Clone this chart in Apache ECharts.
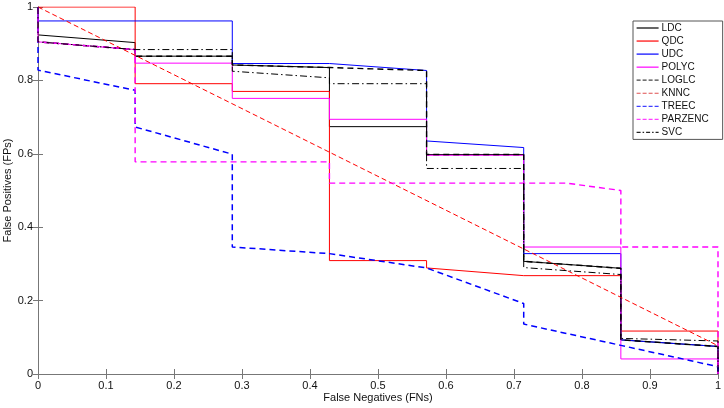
<!DOCTYPE html>
<html>
<head>
<meta charset="utf-8">
<script src="https://cdn.jsdelivr.net/npm/echarts@6/dist/echarts.min.js"></script>
<style>html,body{margin:0;padding:0;background:#fff;}#c{width:724px;height:408px;}</style>
</head>
<body>
<div id="c"></div>
<script>
// Points are [step k (x = k/7), value]
const STEPS = 7;
const LDC    = [[0,1],[0,0.924],[1,0.903],[1,0.866],[2,0.866],[2,0.842],[3,0.835],[3,0.674],[4,0.674],[4,0.598],[5,0.598],[5,0.307],[6,0.288],[6,0.093],[7,0.075],[7,0]];
const QDC    = [[0,1],[1,1],[1,0.791],[2,0.791],[2,0.770],[3,0.770],[3,0.309],[4,0.309],[4,0.289],[5,0.268],[6,0.268],[6,0.117],[7,0.117],[7,0]];
const UDC    = [[0,1],[0,0.962],[2,0.962],[2,0.846],[3,0.846],[4,0.827],[4,0.635],[5,0.617],[5,0.328],[6,0.328],[6,0.093],[7,0.075],[7,0]];
const POLYC  = [[0,1],[0,0.905],[1,0.884],[1,0.847],[2,0.847],[2,0.751],[3,0.751],[3,0.694],[4,0.694],[4,0.596],[5,0.596],[5,0.346],[6,0.346],[6,0.041],[7,0.041],[7,0]];
const LOGLC  = [[0,1],[0,0.905],[1,0.884],[1,0.866],[2,0.866],[2,0.842],[3,0.835],[4,0.827],[4,0.598],[5,0.598],[5,0.307],[6,0.288],[6,0.093],[7,0.075],[7,0]];
const KNNC   = [[0,1],[7,0.077]];
const TREEC  = [[0,1],[0,0.828],[1,0.773],[1,0.673],[2,0.599],[2,0.346],[3,0.328],[4,0.289],[5,0.192],[5,0.136],[6,0.078],[7,0.020],[7,0]];
const PARZENC= [[0,1],[0,0.905],[1,0.884],[1,0.578],[3,0.578],[3,0.520],[5.443,0.520],[6,0.500],[6,0.346],[7,0.346],[7,0]];
const SVC    = [[0,1],[0,0.905],[1,0.884],[2,0.884],[2,0.825],[3,0.807],[3,0.791],[4,0.791],[4,0.560],[5,0.560],[5,0.290],[6,0.271],[6,0.097],[7,0.090],[7,0]];

const names = ['LDC','QDC','UDC','POLYC','LOGLC','KNNC','TREEC','PARZENC','SVC'];
const dataSets = [LDC,QDC,UDC,POLYC,LOGLC,KNNC,TREEC,PARZENC,SVC];
const colors = ['#000000','#ff0000','#0000ff','#ff00ff','#000000','#ff0000','#0000ff','#ff00ff','#000000'];
const dash = [6,4];
const dashDot = [7,3,1.5,3];
const types = ['solid','solid','solid','solid',dash,[5,3],dash,dash,dashDot];
const widths = [1,1,1,1,1.4,1,1.5,1.4,1];
const legendTypes = ['solid','solid','solid','solid',[4,2],[4,2],[4,2],[4,2],[4,2,1.5,2]];
const legendColors = ['#000000','#ff0000','#0000ff','#ff00ff','#444444','#e05050','#4040ff','#ff40ff','#222222'];

const FONT = 'Liberation Sans, Arial, sans-serif';
const axisCommon = {
  type:'value', min:0, max:1,
  axisLine:{show:true, lineStyle:{color:'#777', width:1}},
  axisTick:{show:true, inside:true, length:5, lineStyle:{color:'#777'}},
  splitLine:{show:false}
};

const chart = echarts.init(document.getElementById('c'), null, {renderer:'canvas'});
chart.setOption({
  backgroundColor:'#fff',
  animation:false,
  grid:{left:38, right:6, top:7, bottom:34, containLabel:false, outerBoundsMode:'none'},
  xAxis:[
    Object.assign({}, axisCommon, {position:'bottom', interval:0.1,
      name:'False Negatives (FNs)', nameLocation:'middle', nameGap:18, nameMoveOverlap:false,
      nameTextStyle:{fontFamily:FONT, fontSize:11, color:'#111'},
      axisLabel:{fontFamily:FONT, fontSize:11, color:'#111', margin:6}}),
    Object.assign({}, axisCommon, {position:'top', interval:0.1, axisLabel:{show:false}})
  ],
  yAxis:[
    Object.assign({}, axisCommon, {position:'left', interval:0.2,
      name:'False Positives (FPs)', nameLocation:'middle', nameGap:25, nameMoveOverlap:false,
      nameTextStyle:{fontFamily:FONT, fontSize:11, color:'#111'},
      axisLabel:{fontFamily:FONT, fontSize:11, color:'#111', margin:5}}),
    Object.assign({}, axisCommon, {position:'right', interval:0.2, axisLabel:{show:false}})
  ],
  legend:{
    orient:'vertical', left:633, top:21,
    data:names.map((n,i)=>({
      name:n,
      itemStyle:{opacity:0},
      lineStyle:{color:legendColors[i], width:1.2, type:legendTypes[i]}
    })),
    itemWidth:22, itemHeight:8, itemGap:3.05,
    padding:[2,14,2,3],
    borderColor:'#555', borderWidth:1, backgroundColor:'#fff',
    textStyle:{fontFamily:FONT, fontSize:10, lineHeight:10, color:'#111', padding:[0,0,0,-2]}
  },
  series: names.map((n,i)=>({
    name:n, type:'line', xAxisIndex:0, yAxisIndex:0,
    data: dataSets[i].map(p=>[p[0]/STEPS, p[1]]),
    symbol:'none', showSymbol:false,
    lineStyle:{color:colors[i], width:widths[i], type:types[i]},
    itemStyle:{color:colors[i]},
    z: 2+i
  }))
});
</script>
</body>
</html>
